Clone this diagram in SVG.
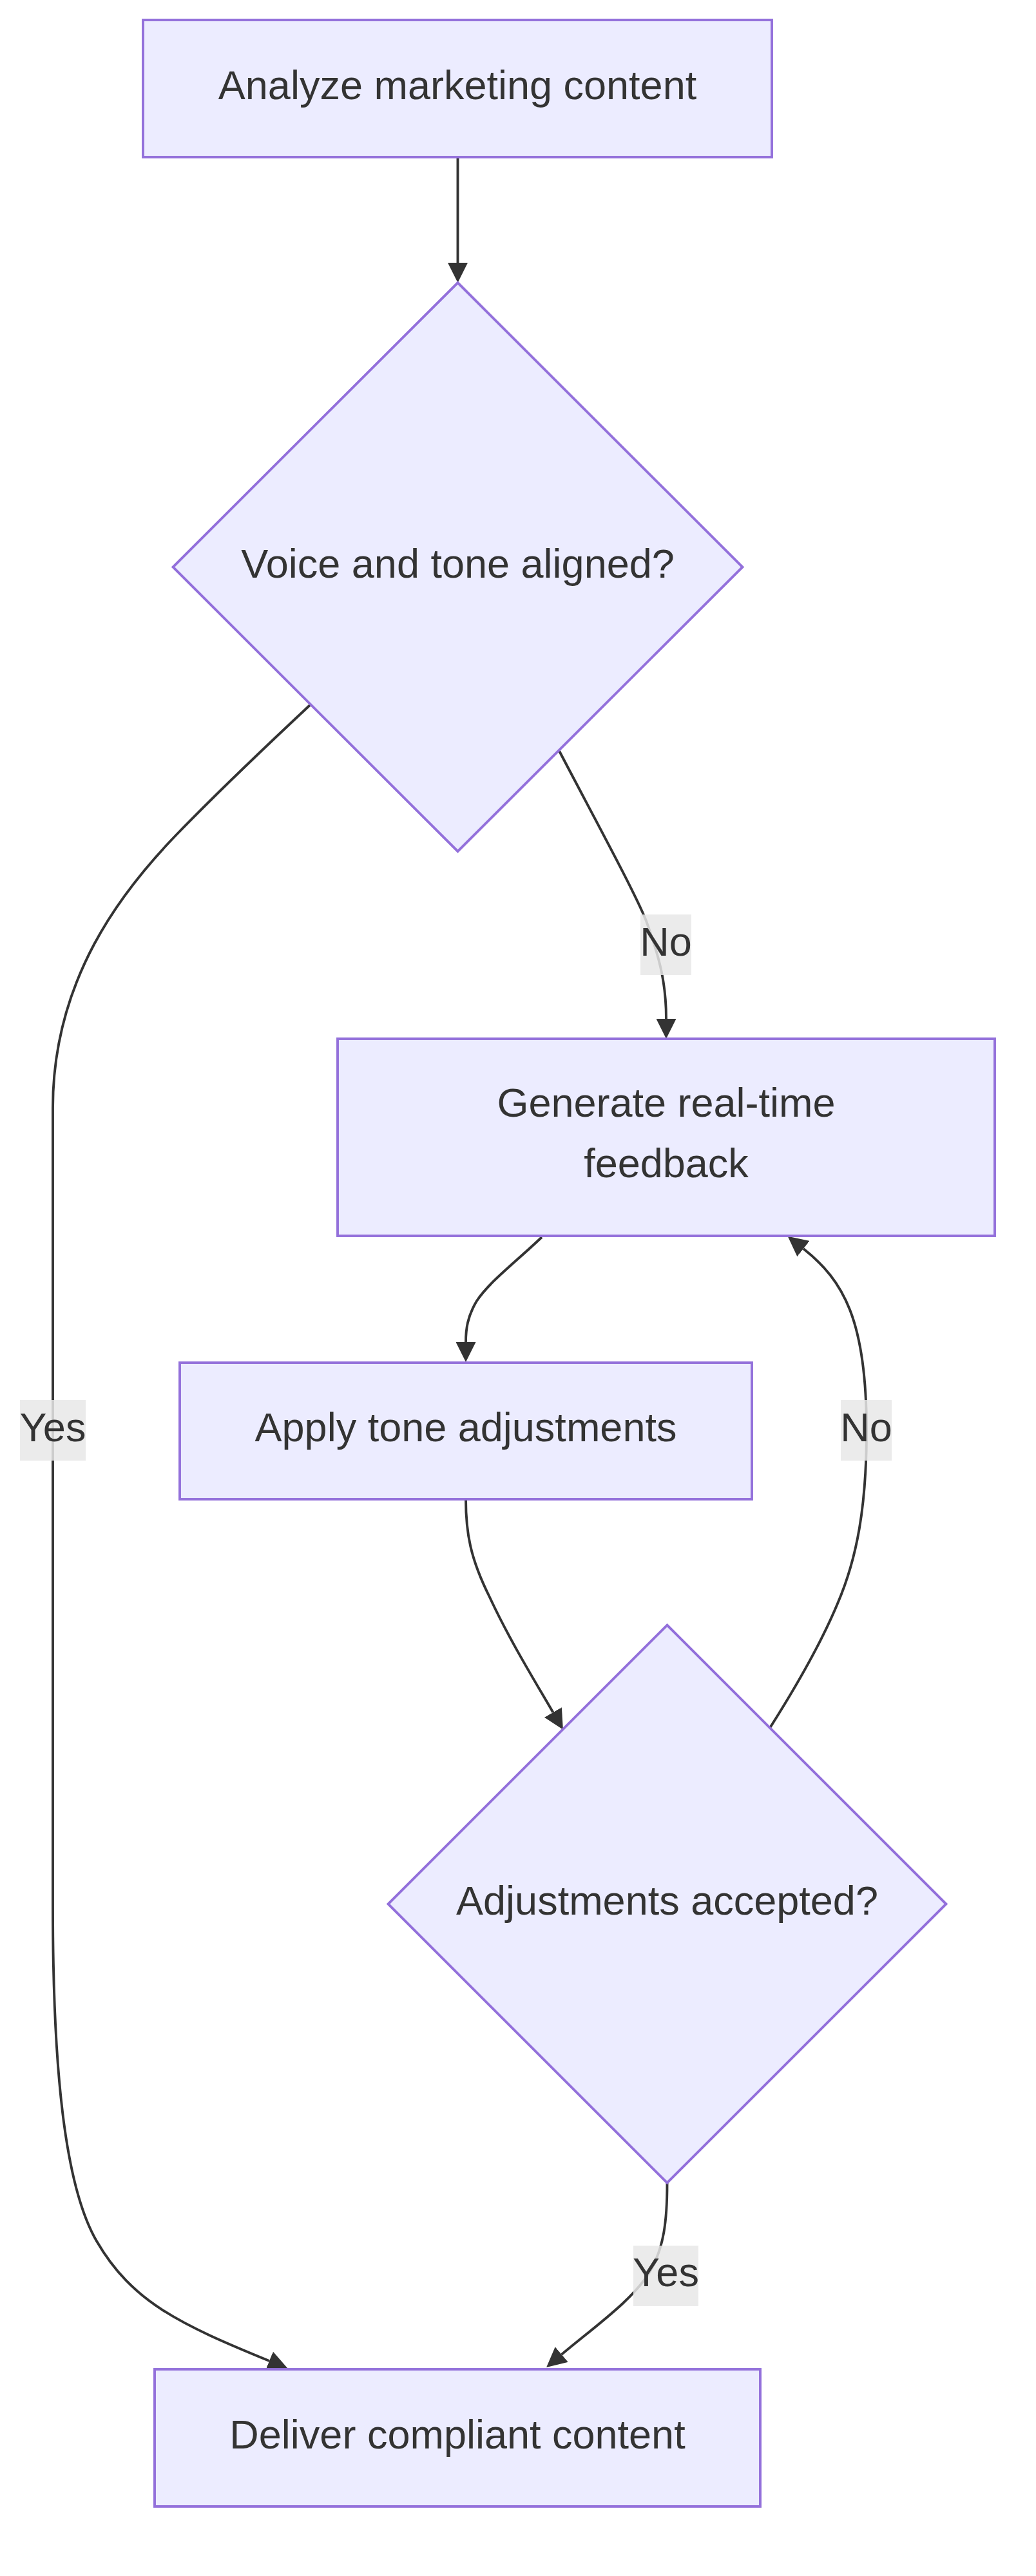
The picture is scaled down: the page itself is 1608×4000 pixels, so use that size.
<svg xmlns="http://www.w3.org/2000/svg" width="1608" height="4000" viewBox="0 0 1608 4000">
<style>
.nd rect,.nd polygon{fill:#ECECFF;stroke:#9370DB;stroke-width:3.9}
.ed path{fill:none;stroke:#333333;stroke-width:3.9}
text{font-family:"Liberation Sans",Arial,Helvetica,sans-serif;font-size:63px;fill:#333333;text-anchor:middle}
.lb rect{fill:#e8e8e8;fill-opacity:0.85}
</style>
<defs>
<marker id="arr" viewBox="0 0 10 10" refX="0" refY="5" markerUnits="userSpaceOnUse" markerWidth="31" markerHeight="31" orient="auto">
<path d="M0,0 L10,5 L0,10 z" fill="#333333"/>
</marker>
</defs>
<rect width="1608" height="4000" fill="#ffffff"/>
<g id="edges" class="ed">
<path id="e1" d="M710.5,245 L710.5,408" marker-end="url(#arr)"/>
<path id="e2" d="M868,1166 C925,1275 985,1385 1003,1430 C1025,1490 1034,1530 1034,1582" marker-end="url(#arr)"/>
<path id="e3" d="M482,1094 C420,1152 330,1238 273,1297 C190,1383 82,1520 82,1720 L82,2960 C82,3210 100,3394 150,3480 C205,3574.6 279,3609 418,3666" marker-end="url(#arr)"/>
<path id="e4" d="M841,1921 C800,1960 760,1990 740,2020 C725,2045 723,2065 723,2084" marker-end="url(#arr)"/>
<path id="e5" d="M723,2328 C723,2380 730,2420 760,2480 C790,2545 830,2610 858.4,2659" marker-end="url(#arr)"/>
<path id="e6" d="M1195,2683 C1235,2620 1275,2550 1300,2490 C1330,2420 1345,2340 1345,2221 C1345,2050 1309,1988 1247,1939" marker-end="url(#arr)"/>
<path id="e7" d="M1035.5,3390 C1035.5,3450 1030,3490 1010,3525 C985,3570 920,3615 871.7,3656" marker-end="url(#arr)"/>
</g>
<g id="edge-labels" class="lb">
<g id="lbl-no1"><rect x="994" y="1420" width="79" height="94"/><text x="1033.5" y="1484">No</text></g>
<g id="lbl-yes1"><rect x="31" y="2174" width="102" height="94"/><text x="82" y="2238">Yes</text></g>
<g id="lbl-no2"><rect x="1305" y="2174" width="79" height="94"/><text x="1344.5" y="2238">No</text></g>
<g id="lbl-yes2"><rect x="983" y="3487" width="101" height="94"/><text x="1033.5" y="3550">Yes</text></g>
</g>
<g id="analyze" class="nd"><rect x="222" y="31" width="976" height="213"/><text x="710" y="153.5">Analyze marketing content</text></g>
<g id="voice" class="nd"><polygon points="710.5,439 1152.5,880.5 710.5,1322 268.5,880.5"/><text x="710.5" y="897">Voice and tone aligned?</text></g>
<g id="generate" class="nd"><rect x="524" y="1613" width="1020" height="306"/><text x="1034" y="1734">Generate real-time</text><text x="1034" y="1828">feedback</text></g>
<g id="apply" class="nd"><rect x="279" y="2116" width="888" height="212"/><text x="723" y="2238">Apply tone adjustments</text></g>
<g id="accepted" class="nd"><polygon points="1035.5,2523.5 1468.5,2956.5 1035.5,3389.5 602.5,2956.5"/><text x="1035.5" y="2972.5">Adjustments accepted?</text></g>
<g id="deliver" class="nd"><rect x="240" y="3679" width="940" height="213"/><text x="710" y="3801.5">Deliver compliant content</text></g>
</svg>
